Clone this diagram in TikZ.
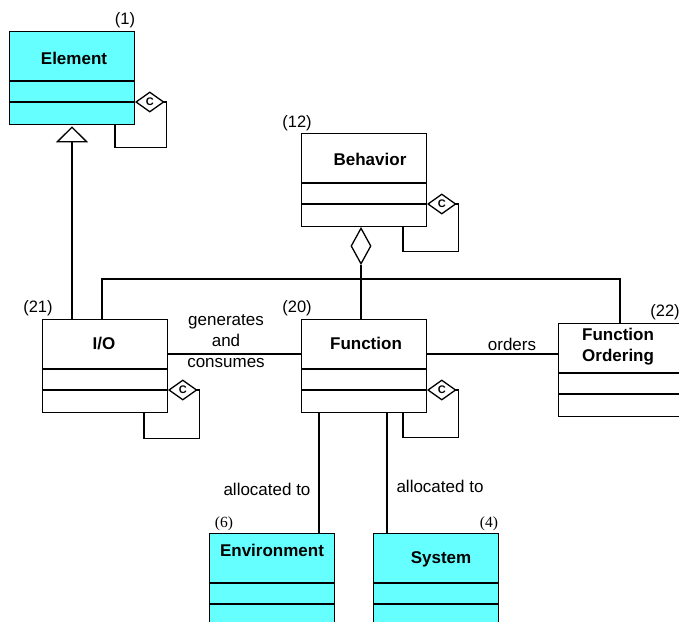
\documentclass[tikz,border=0pt]{standalone}
\usepackage{fontspec}
\setmainfont{Liberation Sans}
\newfontfamily\numserif{Liberation Serif}
\usetikzlibrary{calc,shapes.geometric,arrows.meta}
\definecolor{boxcyan}{RGB}{102,255,255}
\tikzset{
 ln/.style={line width=1.3pt},
 cls/.style={draw, line width=1.3pt, inner sep=0pt, anchor=north west, minimum width=125pt, minimum height=93pt},
 cy/.style={fill=boxcyan},
 cname/.style={font=\fontsize{17}{21}\selectfont\bfseries, inner sep=0pt},
 num/.style={font=\fontsize{16.5}{18}\selectfont, inner sep=0pt},
 snum/.style={font=\fontsize{15.5}{17}\selectfont\numserif, inner sep=0pt},
 lbl/.style={font=\fontsize{17}{21}\selectfont, inner sep=0pt, align=center},
 compdia/.style={draw, diamond, line width=1.3pt, fill=white, inner sep=0pt, minimum width=28pt, minimum height=20pt, font=\fontsize{11}{11}\selectfont\bfseries},
 aggdia/.style={draw, diamond, line width=1.3pt, fill=white, inner sep=0pt, minimum width=20pt, minimum height=36pt, aspect=0.55},
}
\newcommand\classbox[4]{%
  \node[cls,#4] (#1) at (#2,#3) {};
  \draw[ln] ($(#1.north west)+(0,50)$) -- ($(#1.north east)+(0,50)$);
  \draw[ln] ($(#1.north west)+(0,71)$) -- ($(#1.north east)+(0,71)$);
}
\newcommand\selfloop[3]{%
  \draw[ln] ($(#1.south west)+(#2,0)$) -- ++(0,#3) -| ($(#1.north east)+(31,71)$) -- ($(#1.north east)+(28,71)$);
  \node[compdia] (#1c) at ($(#1.north east)+(14.5,71)$) {C};
}
\begin{document}
\begin{tikzpicture}[x=1pt,y=-1pt]
\useasboundingbox (0,0) rectangle (679,621);
\clip (0,0) rectangle (679,621);
% class boxes
\classbox{elem}{9}{31}{cy}
\classbox{beh}{301}{133}{}
\classbox{io}{42}{319}{}
\classbox{func}{301}{319}{}
\classbox{ford}{558}{323}{}
\classbox{env}{209}{533}{cy}
\classbox{sys}{373}{533}{cy}
% class names
\node[cname] (elemt) at (74,58) {Element};
\node[cname] (beht) at (370,159) {Behavior};
\node[cname] (iot) at (104,344) {I/O};
\node[cname] (funct) at (366,343) {Function};
\node[cname, anchor=west, align=left] (fordt) at (582,347) {Function\\Ordering};
\node[cname] (envt) at (272,550) {Environment};
\node[cname] (syst) at (441,559) {System};
% numbers
\node[num] (n1) at (125,20) {(1)};
\node[num] (n12) at (297,123) {(12)};
\node[num] (n21) at (38,308) {(21)};
\node[num] (n20) at (297,308) {(20)};
\node[num] (n22) at (665,312) {(22)};
\node[snum] (n6) at (224,524) {(6)};
\node[snum] (n4) at (489,524) {(4)};
% self loops
\selfloop{elem}{106}{22}
\selfloop{beh}{102}{24}
\selfloop{io}{102}{25}
\selfloop{func}{102}{24}
% generalization I/O -> Element
\draw[ln, -{Triangle[open, width=32pt, length=16pt, line width=1.3pt]}] ($(io.north west)+(30,0)$) -- ($(elem.south west)+(63,1)$);
% aggregation Behavior - Function
\node[aggdia] (agg) at (361,246) {};
\draw[ln] (agg.south) -- (agg.south |- func.north);
% bus to I/O and Function Ordering
\draw[ln] ($(io.north west)+(60,0)$) -- ++(0,-40) -| ($(ford.north west)+(62,0)$);
% associations
\draw[ln] ($(io.north east)+(0,35)$) -- ($(func.north west)+(0,35)$);
\draw[ln] ($(func.north east)+(0,35)$) -- ($(ford.north west)+(0,31)$);
\draw[ln] ($(func.south west)+(18,0)$) -- ($(env.north west)+(110,0)$);
\draw[ln] ($(func.south west)+(86,0)$) -- ($(sys.north west)+(14,0)$);
% association labels
\node[lbl] (gac) at (226,341) {generates\\and\\consumes};
\node[lbl] (ord) at (512,344) {orders};
\node[lbl] (al1) at (267,489) {allocated to};
\node[lbl] (al2) at (440,486) {allocated to};
\end{tikzpicture}
\end{document}
